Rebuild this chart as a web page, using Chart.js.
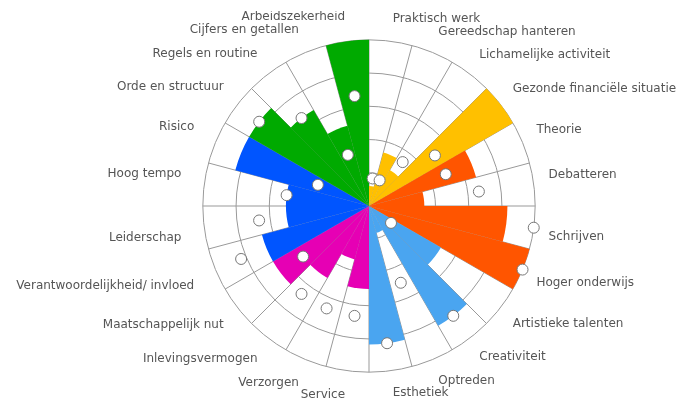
<!DOCTYPE html>
<html>
<head>
<meta charset="utf-8">
<script src="https://cdn.jsdelivr.net/npm/chart.js@4/dist/chart.umd.min.js"></script>
<style>
  html, body { margin: 0; padding: 0; overflow: hidden; background: #fff; }
  #wrap { position: relative; width: 677px; height: 403px; overflow: hidden; }
  #chart { position: absolute; left: -1px; top: 11px; }
</style>
</head>
<body>
<div id="wrap"><canvas id="chart" width="720" height="392"></canvas></div>
<script>
// categories, clockwise from the top
var labels = [
  'Praktisch werk', 'Gereedschap hanteren', 'Lichamelijke activiteit', 'Gezonde financiële situatie',
  'Theorie', 'Debatteren', 'Schrijven', 'Hoger onderwijs',
  'Artistieke talenten', 'Creativiteit', 'Optreden', 'Esthetiek',
  'Service', 'Verzorgen', 'Inlevingsvermogen', 'Maatschappelijk nut',
  'Verantwoordelijkheid/ invloed', 'Leiderschap', 'Hoog tempo', 'Risico',
  'Orde en structuur', 'Regels en routine', 'Cijfers en getallen', 'Arbeidszekerheid'
];

// coloured sectors
var scores = [
  12, 33.3, 25, 100,
  66.7, 33.3, 83.3, 100,
  50, 83.3, 16.7, 83.3,
  50, 33.3, 50, 66.7,
  66.7, 50, 50, 83.3,
  83.3, 66.7, 50, 100
];

// white markers
var markers = [
  16.7, 16.7, 33.3, 50,
  50, 66.7, 100, 100,
  16.7, 83.3, 50, 83.3,
  66.7, 66.7, 66.7, 50,
  83.3, 66.7, 50, 33.3,
  83.3, 66.7, 33.3, 66.7
];

var groupColors = ['#ffc000', '#ff5500', '#4aa5f0', '#e600b4', '#0055ff', '#00aa00'];
var colors = labels.map(function(l, i) { return groupColors[Math.floor(i / 4)]; });

// labels on the left sit a little further out
function labelPadding(ctx) {
  var i = ctx.index;
  if (i >= 16 && i <= 19) return 23;
  if (i >= 12) return 17;
  return 15;
}

// draws the markers on top of the grid, centred in each sector
var markerPlugin = {
  id: 'markers',
  afterDraw: function(chart) {
    var scale = chart.scales.r;
    var ctx = chart.ctx;
    var half = Math.PI / labels.length;
    ctx.save();
    markers.forEach(function(v, i) {
      var p = scale.getPointPosition(i, scale.getDistanceFromCenterForValue(v), half);
      ctx.beginPath();
      ctx.arc(p.x, p.y, 5.5, 0, Math.PI * 2);
      ctx.fillStyle = '#fff';
      ctx.fill();
      ctx.lineWidth = 1;
      ctx.strokeStyle = '#777';
      ctx.stroke();
    });
    ctx.restore();
  }
};

new Chart(document.getElementById('chart'), {
  type: 'polarArea',
  data: {
    labels: labels,
    datasets: [{
      data: scores,
      backgroundColor: colors,
      borderWidth: 0
    }]
  },
  options: {
    responsive: false,
    animation: false,
    plugins: {
      legend: { display: false },
      tooltip: { enabled: false }
    },
    scales: {
      r: {
        z: 1,
        min: 0,
        max: 100,
        ticks: { display: false, stepSize: 20 },
        grid: { color: '#999', circular: true },
        angleLines: { display: true, color: '#999' },
        pointLabels: {
          display: true,
          centerPointLabels: true,
          padding: labelPadding,
          color: '#555',
          font: { family: 'DejaVu Sans', size: 12 }
        }
      }
    }
  },
  plugins: [markerPlugin]
});
</script>
</body>
</html>
